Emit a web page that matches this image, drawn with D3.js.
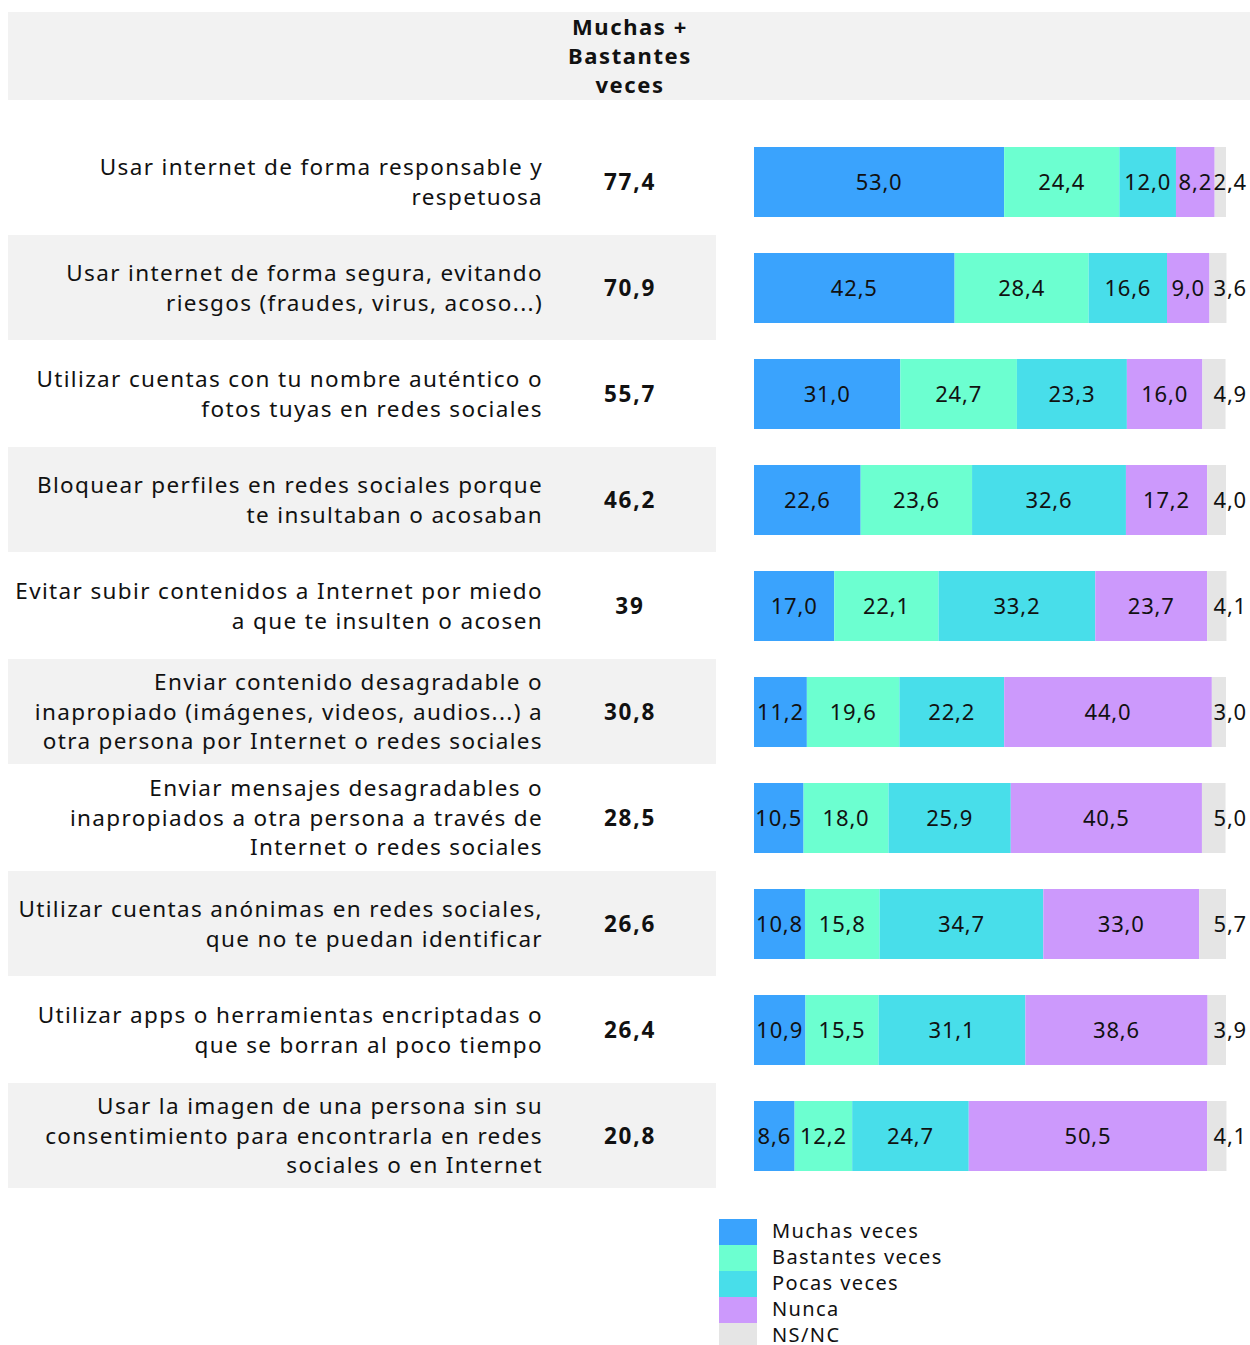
<!DOCTYPE html>
<html>
<head>
<meta charset="utf-8">
<script src="https://cdn.jsdelivr.net/npm/d3@7"></script>
<style>
  body { margin: 0; background: #fff; }
  text { font-family: "Noto Sans", "DejaVu Sans", sans-serif; fill: #111; }
</style>
</head>
<body>
<div id="chart"></div>
<script>
var categories = [
  ["Usar internet de forma responsable y", "respetuosa"],
  ["Usar internet de forma segura, evitando", "riesgos (fraudes, virus, acoso...)"],
  ["Utilizar cuentas con tu nombre auténtico o", "fotos tuyas en redes sociales"],
  ["Bloquear perfiles en redes sociales porque", "te insultaban o acosaban"],
  ["Evitar subir contenidos a Internet por miedo", "a que te insulten o acosen"],
  ["Enviar contenido desagradable o", "inapropiado (imágenes, videos, audios...) a", "otra persona por Internet o redes sociales"],
  ["Enviar mensajes desagradables o", "inapropiados a otra persona a través de", "Internet o redes sociales"],
  ["Utilizar cuentas anónimas en redes sociales,", "que no te puedan identificar"],
  ["Utilizar apps o herramientas encriptadas o", "que se borran al poco tiempo"],
  ["Usar la imagen de una persona sin su", "consentimiento para encontrarla en redes", "sociales o en Internet"]
];
var totals = ["77,4", "70,9", "55,7", "46,2", "39", "30,8", "28,5", "26,6", "26,4", "20,8"];
var series = ["Muchas veces", "Bastantes veces", "Pocas veces", "Nunca", "NS/NC"];
var muchas    = [53.0, 42.5, 31.0, 22.6, 17.0, 11.2, 10.5, 10.8, 10.9, 8.6];
var bastantes = [24.4, 28.4, 24.7, 23.6, 22.1, 19.6, 18.0, 15.8, 15.5, 12.2];
var pocas     = [12.0, 16.6, 23.3, 32.6, 33.2, 22.2, 25.9, 34.7, 31.1, 24.7];
var nunca     = [8.2, 9.0, 16.0, 17.2, 23.7, 44.0, 40.5, 33.0, 38.6, 50.5];
var nsnc      = [2.4, 3.6, 4.9, 4.0, 4.1, 3.0, 5.0, 5.7, 3.9, 4.1];
var colors = ["#3aa3fd", "#6cffd0", "#48deea", "#cc99fc", "#e5e5e5"];
var headerLines = ["Muchas +", "Bastantes", "veces"];

var W = 1250, H = 1345;
var svg = d3.select("#chart").append("svg")
  .attr("width", W).attr("height", H);

var rows = categories.map(function (c, i) {
  return { idx: i, lines: c, total: totals[i],
    vals: [muchas[i], bastantes[i], pocas[i], nunca[i], nsnc[i]] };
});

var y = d3.scaleBand()
  .domain(d3.range(rows.length))
  .range([129, 1189])
  .padding(0);
var x = d3.scaleLinear()
  .domain([0, 100])
  .range([754, 1226]);
var color = d3.scaleOrdinal().domain(series).range(colors);
var fmt = d3.formatLocale({ decimal: ",", thousands: ".", grouping: [3], currency: ["", "€"] }).format(".1f");

// header band
svg.append("rect")
  .attr("x", 8).attr("y", 12).attr("width", 1242).attr("height", 88)
  .attr("fill", "#f2f2f2");
svg.append("g").selectAll("text")
  .data(headerLines)
  .enter().append("text")
  .attr("x", 630)
  .attr("y", function (d, i) { return 35 + i * 29; })
  .attr("text-anchor", "middle")
  .style("font-size", "22px")
  .style("font-weight", "bold")
  .style("letter-spacing", "1.6px")
  .text(function (d) { return d; });

// alternating row bands
svg.append("g").selectAll("rect")
  .data(rows.filter(function (d) { return d.idx % 2 == 1; }))
  .enter().append("rect")
  .attr("x", 8)
  .attr("y", function (d) { return y(d.idx); })
  .attr("width", 708)
  .attr("height", y.bandwidth() - 1)
  .attr("fill", "#f2f2f2");

var row = svg.append("g").selectAll("g")
  .data(rows)
  .enter().append("g")
  .attr("transform", function (d) { return "translate(0," + (y(d.idx) + y.bandwidth() / 2) + ")"; });

// category labels
row.each(function (d) {
  var n = d.lines.length;
  d3.select(this).selectAll("text.cat")
    .data(d.lines)
    .enter().append("text")
    .attr("class", "cat")
    .attr("x", 543)
    .attr("y", function (t, i) { return (i - (n - 1) / 2) * 29.5; })
    .attr("dy", "0.35em")
    .attr("text-anchor", "end")
    .style("font-size", "22.5px")
    .style("letter-spacing", "1.35px")
    .text(function (t) { return t; });
});

// totals
row.append("text")
  .attr("x", 630)
  .attr("dy", "0.35em")
  .attr("text-anchor", "middle")
  .style("font-size", "22.5px")
  .style("font-weight", "bold")
  .style("letter-spacing", "1.8px")
  .text(function (d) { return d.total; });

// stacked segments
var barH = 70;
row.each(function (d) {
  var acc = 0;
  var segs = d.vals.map(function (v, k) {
    var s = { k: k, v: v, x0: acc, x1: acc + v };
    acc += v;
    return s;
  });
  var g = d3.select(this);
  g.selectAll("rect.seg")
    .data(segs)
    .enter().append("rect")
    .attr("class", "seg")
    .attr("x", function (s) { return x(s.x0); })
    .attr("y", -barH / 2)
    .attr("width", function (s) { return x(s.x1) - x(s.x0); })
    .attr("height", barH)
    .attr("fill", function (s) { return color(series[s.k]); });
  g.selectAll("text.val")
    .data(segs)
    .enter().append("text")
    .attr("class", "val")
    .attr("x", function (s) { return s.k == 4 ? 1247 : (x(s.x0) + x(s.x1)) / 2; })
    .attr("dy", "0.35em")
    .attr("text-anchor", function (s) { return s.k == 4 ? "end" : "middle"; })
    .style("font-size", "22px")
    .style("letter-spacing", "0.8px")
    .text(function (s) { return fmt(s.v); });
});

// legend
var legend = svg.append("g").selectAll("g")
  .data(series)
  .enter().append("g")
  .attr("transform", function (d, i) { return "translate(719," + (1219 + i * 26) + ")"; });
legend.append("rect")
  .attr("width", 38).attr("height", 26)
  .attr("fill", function (d) { return color(d); });
legend.append("text")
  .attr("x", 53).attr("y", 12)
  .attr("dy", "0.35em")
  .style("font-size", "20px")
  .style("letter-spacing", "1.4px")
  .text(function (d) { return d; });
</script>
</body>
</html>
